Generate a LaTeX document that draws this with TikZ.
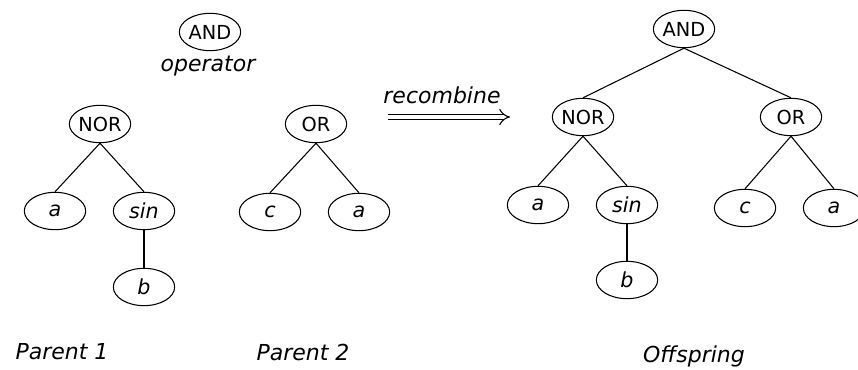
\documentclass[tikz,border=0pt]{standalone}
\usepackage{fontspec}
\setmainfont{DejaVu Sans}
\usetikzlibrary{shapes.geometric,arrows.meta}
\tikzset{
every picture/.style={
line width=0.8pt
}}

\begin{document}
\begin{tikzpicture}[x=0.75pt,y=-0.75pt,
  gene/.style={ellipse, draw, minimum width=46pt, minimum height=28pt, inner sep=0pt, font=\fontsize{14.5}{16}\selectfont},
  leaf/.style={gene, font=\fontsize{15.5}{17}\selectfont\itshape},
  caption/.style={font=\fontsize{16.5}{19}\selectfont\itshape}]

\useasboundingbox (0,0) rectangle (858,370);

% operator used for the recombination
\node[gene] (op) at (210,32) {AND};
\node[caption] (oplabel) at (208,66) {operator};

% parent 1
\node[gene] (p1nor) at (100,124) {NOR};
\node[leaf] (p1a) at (55,211) {a};
\node[leaf] (p1sin) at (144,211) {sin};
\node[leaf] (p1b) at (144,287) {b};
\node[caption] (p1label) at (62,352) {Parent 1};

% parent 2
\node[gene] (p2or) at (316,124) {OR};
\node[leaf] (p2c) at (270,212) {c};
\node[leaf] (p2a) at (359,212) {a};
\node[caption] (p2label) at (303,352) {Parent 2};

% recombine step
\node[caption] (reclabel) at (442,95) {recombine};
\coordinate (recfrom) at (388,117);
\coordinate (recto) at (510,117);

% offspring
\node[gene] (ofand) at (684,29) {AND};
\node[gene] (ofnor) at (583,117) {NOR};
\node[gene] (ofor) at (791,117) {OR};
\node[leaf] (ofa) at (538,205) {a};
\node[leaf] (ofsin) at (627,205) {sin};
\node[leaf] (ofb) at (627,280) {b};
\node[leaf] (ofc) at (745,208) {c};
\node[leaf] (ofa2) at (834,208) {a};
\node[caption] (oflabel) at (694,356) {Offspring};

\path (p1nor.south) edge (p1a.north)
 (p1nor.south) edge (p1sin.north)
 (p1sin.south) edge (p1b.north)
 (p2or.south) edge (p2c.north)
 (p2or.south) edge (p2a.north)
 (ofand.south) edge (ofnor.north)
 (ofand.south) edge (ofor.north)
 (ofnor.south) edge (ofa.north)
 (ofnor.south) edge (ofsin.north)
 (ofsin.south) edge (ofb.north)
 (ofor.south) edge (ofc.north)
 (ofor.south) edge (ofa2.north)
;

\draw[double, double distance=3.5pt, -{Implies}] (recfrom) -- (recto);
\end{tikzpicture}
\end{document}
